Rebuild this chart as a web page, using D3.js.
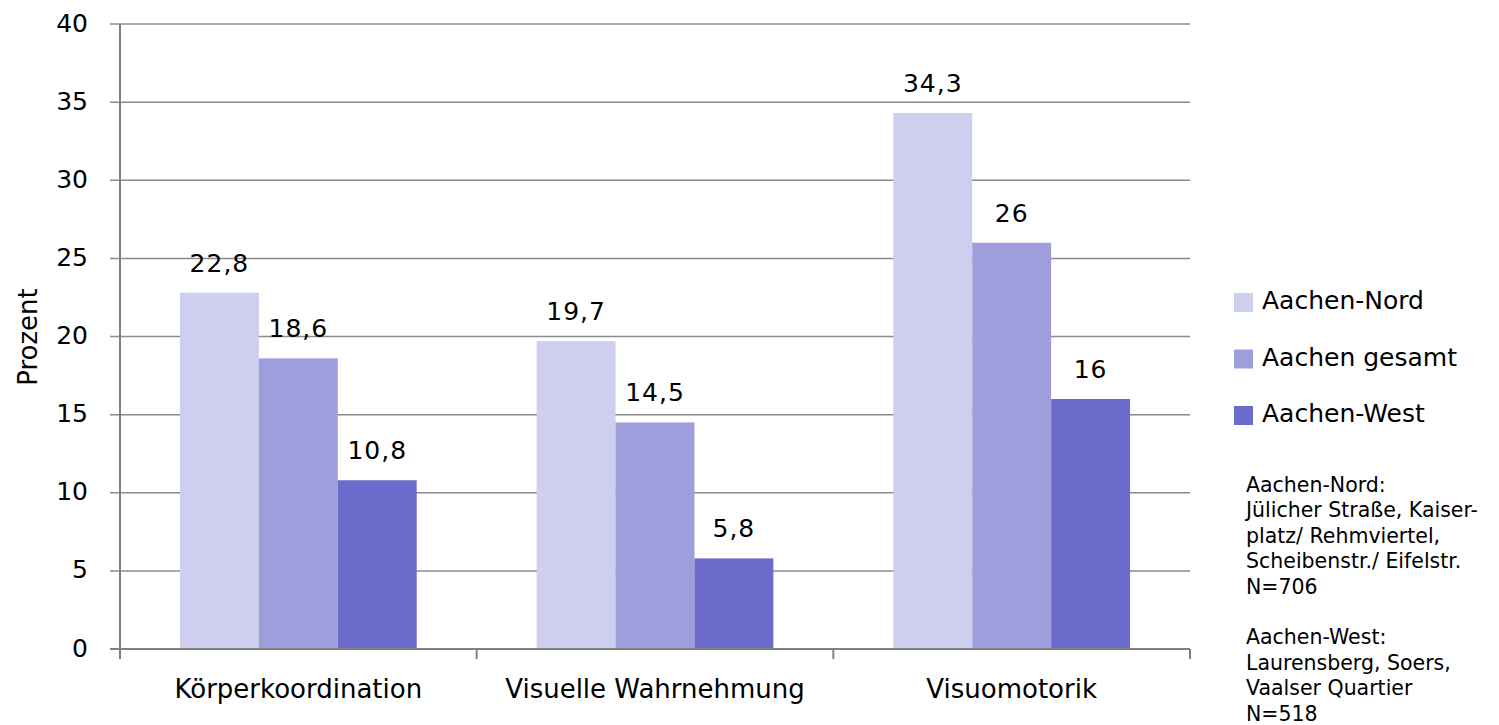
<!DOCTYPE html>
<html>
<head>
<meta charset="utf-8">
<script src="https://cdn.jsdelivr.net/npm/d3@7"></script>
<style>
  html, body { margin: 0; padding: 0; background: #fff; }
  svg { display: block; font-family: "DejaVu Sans", Verdana, sans-serif; }
</style>
</head>
<body>
<svg id="chart" width="1499" height="725"></svg>
<script>
const categories = ["Körperkoordination", "Visuelle Wahrnehmung", "Visuomotorik"];
const seriesNames = ["Aachen-Nord", "Aachen gesamt", "Aachen-West"];
const nordValues = [22.8, 19.7, 34.3];
const gesamtValues = [18.6, 14.5, 26];
const westValues = [10.8, 5.8, 16];
const yTicks = [0, 5, 10, 15, 20, 25, 30, 35, 40];
const colors = ["#CECEEE", "#9F9EDD", "#6B6BCC"];
const noteLines = [
  "Aachen-Nord:",
  "Jülicher Straße, Kaiser-",
  "platz/ Rehmviertel,",
  "Scheibenstr./ Eifelstr.",
  "N=706",
  "",
  "Aachen-West:",
  "Laurensberg, Soers,",
  "Vaalser Quartier",
  "N=518"
];

(function () {
const seriesValues = [nordValues, gesamtValues, westValues];
const svg = d3.select("#chart");

const mLeft = 120, mRight = 1190, mTop = 24, mBottom = 649;

const y = d3.scaleLinear().domain([0, 40]).range([mBottom, mTop]);
const x0 = d3.scaleBand().domain(categories).range([mLeft, mRight]).padding(0);
const x1 = d3.scaleBand().domain(seriesNames).range([0, x0.bandwidth()]).paddingInner(0).paddingOuter(0.76);

const fmt = v => String(v).replace(".", ",");

// gridlines
svg.append("g")
  .selectAll("line")
  .data(yTicks)
  .join("line")
  .attr("x1", mLeft - 10).attr("x2", mRight)
  .attr("y1", d => y(d)).attr("y2", d => y(d))
  .attr("stroke", "#8c8c8c").attr("stroke-width", 1.5);

// y tick labels
svg.append("g")
  .selectAll("text")
  .data(yTicks)
  .join("text")
  .attr("x", 88).attr("y", d => y(d) + 7.5)
  .attr("text-anchor", "end")
  .attr("font-size", 25)
  .attr("fill", "#000")
  .text(d => d);

// bars
const groups = svg.append("g")
  .selectAll("g")
  .data(categories)
  .join("g")
  .attr("transform", d => `translate(${x0(d)},0)`);

groups.selectAll("rect")
  .data((c, ci) => seriesNames.map((s, si) => ({ s, si, v: seriesValues[si][ci] })))
  .join("rect")
  .attr("x", d => x1(d.s))
  .attr("width", x1.bandwidth())
  .attr("y", d => y(d.v))
  .attr("height", d => y(0) - y(d.v))
  .attr("fill", d => colors[d.si]);

groups.selectAll("text")
  .data((c, ci) => seriesNames.map((s, si) => ({ s, si, v: seriesValues[si][ci] })))
  .join("text")
  .attr("x", d => x1(d.s) + x1.bandwidth() / 2)
  .attr("y", d => y(d.v) - 21)
  .attr("text-anchor", "middle")
  .attr("font-size", 25)
  .attr("letter-spacing", 1)
  .attr("fill", "#000")
  .text(d => fmt(d.v));

// axes lines
svg.append("line")
  .attr("x1", mLeft).attr("x2", mLeft)
  .attr("y1", mTop).attr("y2", mBottom + 10)
  .attr("stroke", "#808080").attr("stroke-width", 2);
svg.append("line")
  .attr("x1", mLeft - 10).attr("x2", mRight)
  .attr("y1", mBottom).attr("y2", mBottom)
  .attr("stroke", "#808080").attr("stroke-width", 2);

// x ticks at category boundaries
const boundaries = categories.map(c => x0(c)).concat([x0(categories[categories.length - 1]) + x0.bandwidth()]);
svg.append("g")
  .selectAll("line")
  .data(boundaries)
  .join("line")
  .attr("x1", d => d).attr("x2", d => d)
  .attr("y1", mBottom).attr("y2", mBottom + 10)
  .attr("stroke", "#808080").attr("stroke-width", 2);

// category labels
svg.append("g")
  .selectAll("text")
  .data(categories)
  .join("text")
  .attr("x", d => x0(d) + x0.bandwidth() / 2)
  .attr("y", 698)
  .attr("text-anchor", "middle")
  .attr("font-size", 26)
  .attr("fill", "#000")
  .text(d => d);

// y axis title
svg.append("text")
  .attr("transform", "translate(37,337) rotate(-90)")
  .attr("text-anchor", "middle")
  .attr("font-size", 26)
  .attr("fill", "#000")
  .text("Prozent");

// legend
const legend = svg.append("g")
  .selectAll("g")
  .data(seriesNames)
  .join("g")
  .attr("transform", (d, i) => `translate(1234,${293 + i * 56.5})`);
legend.append("rect")
  .attr("width", 19).attr("height", 19)
  .attr("fill", (d, i) => colors[i]);
legend.append("text")
  .attr("x", 28).attr("y", 16)
  .attr("font-size", 25)
  .attr("fill", "#000")
  .text(d => d);

// notes
svg.append("g")
  .selectAll("text")
  .data(noteLines)
  .join("text")
  .attr("x", 1246)
  .attr("y", (d, i) => 492 + i * 25.4)
  .attr("font-size", 20.5)
  .attr("fill", "#000")
  .text(d => d);
})();
</script>
</body>
</html>
